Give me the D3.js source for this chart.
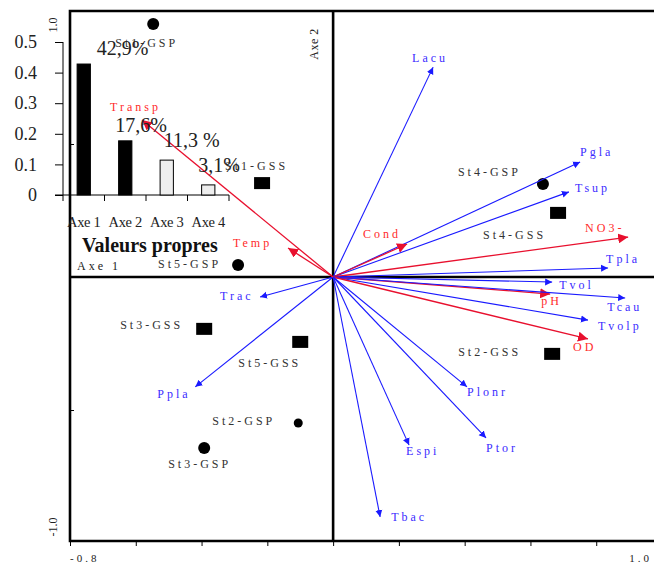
<!DOCTYPE html>
<html>
<head>
<meta charset="utf-8">
<script src="https://cdn.jsdelivr.net/npm/d3@7"></script>
<style>
  body { margin: 0; background: #fff; }
  svg { display: block; }
  .lab { font-family: "Liberation Serif", "Times New Roman", serif; font-size: 12px; letter-spacing: 3px; }
</style>
</head>
<body>
<svg id="chart" width="654" height="567"></svg>
<script>

// variables (arrows) : coordinates on axe 1 / axe 2
var varNames = ["Lacu", "Pgla", "Tsup", "Cond", "NO3-", "Tpla", "Tvol", "pH", "Tcau", "Tvolp",
                "OD", "Plonr", "Ptor", "Espi", "Tbac", "Trac", "Ppla", "Transp", "Temp"];
var varAxe1 = [0.304, 0.751, 0.717, 0.225, 0.897, 0.836, 0.666, 0.660, 0.888, 0.775,
               0.775, 0.407, 0.465, 0.231, 0.143, -0.222, -0.419, -0.581, -0.137];
var varAxe2 = [0.789, 0.432, 0.320, 0.124, 0.150, 0.034, -0.019, -0.064, -0.079, -0.162,
               -0.233, -0.413, -0.605, -0.632, -0.902, -0.075, -0.413, 0.590, 0.109];
// "phys" = physico-chimie (red), "bio" = blue
var varGroup = ["bio", "bio", "bio", "phys", "phys", "bio", "bio", "phys", "bio", "bio",
                "phys", "bio", "bio", "bio", "bio", "bio", "bio", "phys", "phys"];
// label offsets from the arrow tip
var varLabelDx = [-21, 0, 6, -44, -43, -2, 7, -9, -18, 10, -15, 0, 0, -3, 11, -40, -38, -32, -55];
var varLabelDy = [-5, -6, 0, -6, -5, -5, 7, 11, 13, 10, 12, 9, 14, 10, 4, 3, 11, -9, -1];

// stations
var stNames = ["St1-GSP", "St1-GSS", "St4-GSP", "St4-GSS", "St5-GSP", "St3-GSS", "St5-GSS",
               "St2-GSP", "St3-GSP", "St2-GSS"];
var stAxe1 = [-0.547, -0.216, 0.638, 0.684, -0.289, -0.392, -0.100, -0.106, -0.392, 0.666];
var stAxe2 = [0.951, 0.353, 0.350, 0.241, 0.045, -0.195, -0.244, -0.549, -0.643, -0.289];
var stShape = ["circle", "square", "circle", "square", "circle", "square", "square",
               "circle", "circle", "square"];
var stLabelDx = [-38, -37, -85, -75, -80, -84, -62, -86, -36, -94];
var stLabelDy = [23, -13, -8, 26, 3, 0, 25, 2, 20, 2];

// inset : valeurs propres
var eigAxes = ["Axe 1", "Axe 2", "Axe 3", "Axe 4"];
var eigValues = [0.428, 0.177, 0.114, 0.033];
var eigPct = ["42,9%", "17,6%", "11,3 %", "3,1%"];
var eigTicks = [0, 0.1, 0.2, 0.3, 0.4, 0.5];
var eigFill = ["#000", "#000", "#eeeeee", "#eeeeee"];
var eigLabelDx = [13, -10, -3, -10];
var eigLabelDy = [-9, -9, -13, -13];

var blue = "#1a1aff", red = "#e8102e";
var serif = "'Liberation Serif', 'Times New Roman', serif";

var svg = d3.select("#chart");

x = d3.scaleLinear().domain([-0.8, 1.0]).range([70, 662]);
y = d3.scaleLinear().domain([-1, 1]).range([543, 11]);

var defs = svg.append("defs");
[["blue", blue, 7, 4], ["red", red, 10, 5]].forEach(function (m) {
    defs.append("marker")
        .attr("id", "arr-" + m[0])
        .attr("markerUnits", "userSpaceOnUse")
        .attr("viewBox", "0 0 10 10")
        .attr("refX", 10).attr("refY", 5)
        .attr("markerWidth", m[2]).attr("markerHeight", m[3] * 2)
        .attr("orient", "auto")
        .append("path")
        .attr("d", "M0,0L10,5L0,10z")
        .attr("fill", m[1]);
});

// frame
svg.append("path")
    .attr("d", `M654,${y(1)}H${x(-0.8)}V${y(-1) - 2}H654`)
    .attr("fill", "none").attr("stroke", "#000").attr("stroke-width", 2.6);

// bottom ticks
svg.append("g")
    .attr("transform", `translate(0,${y(-1) - 1})`)
    .call(d3.axisBottom(x).tickValues(d3.range(-0.8, 1.01, 0.2)).tickSize(4).tickFormat(""))
    .call(g => g.select(".domain").remove());

// left ticks inside
svg.append("g")
    .attr("transform", `translate(${x(-0.8)},0)`)
    .call(d3.axisRight(y).tickValues([-0.5, 0.5]).tickSize(4).tickFormat(""))
    .call(g => g.select(".domain").remove());

svg.append("text").attr("class", "lab").attr("x", x(-0.8)).attr("y", 562)
    .attr("fill", "#222").style("font-size", "11px").text("-0.8");
svg.append("text").attr("class", "lab").attr("x", 652).attr("y", 562)
    .attr("text-anchor", "end").attr("fill", "#222").style("font-size", "11px").text("1.0");
svg.append("text").attr("class", "lab")
    .attr("transform", `translate(57,${y(1) + 14}) rotate(-90)`)
    .attr("text-anchor", "middle").attr("fill", "#222").style("letter-spacing", "0px")
    .text("1.0");
svg.append("text").attr("class", "lab")
    .attr("transform", `translate(57,${y(-1) - 16}) rotate(-90)`)
    .attr("text-anchor", "middle").attr("fill", "#222").style("letter-spacing", "0px")
    .text("-1.0");

// main axes
svg.append("line")
    .attr("x1", x(-0.8)).attr("x2", 654).attr("y1", y(0)).attr("y2", y(0))
    .attr("stroke", "#000").attr("stroke-width", 2.6);
svg.append("line")
    .attr("x1", x(0)).attr("x2", x(0)).attr("y1", y(1)).attr("y2", y(-1) - 2)
    .attr("stroke", "#000").attr("stroke-width", 2.6);

svg.append("text").attr("class", "lab").attr("x", 77).attr("y", 270)
    .attr("fill", "#222").text("Axe 1");
svg.append("text").attr("class", "lab")
    .attr("transform", `translate(318,44) rotate(-90)`)
    .attr("text-anchor", "middle").attr("fill", "#222").style("letter-spacing", "0.5px")
    .text("Axe 2");

// inset bar chart
var bx = d3.scaleBand().domain(eigAxes).range([63, 229]).paddingInner(0.68).paddingOuter(0.34);
var by = d3.scaleLinear().domain([0, 0.5]).range([195, 42]);

var inset = svg.append("g").attr("font-family", serif);

inset.append("g")
    .attr("transform", "translate(63,0)")
    .call(d3.axisLeft(by).tickValues(eigTicks).tickSize(8).tickPadding(18)
        .tickFormat(d => d === 0 ? "0" : d3.format(".1f")(d)))
    .attr("font-family", serif).attr("font-size", 18)
    .call(g => g.selectAll("text").attr("fill", "#222"))
    .call(g => g.select(".domain").attr("d", "M0,42V195"));

inset.append("line").attr("x1", 55).attr("x2", 229).attr("y1", 195).attr("y2", 195)
    .attr("stroke", "#000");
inset.selectAll("line.bt")
    .data([63, 63 + bx.step(), 63 + 2 * bx.step(), 63 + 3 * bx.step(), 229])
    .join("line").attr("class", "bt")
    .attr("x1", d => d).attr("x2", d => d).attr("y1", 195).attr("y2", 201)
    .attr("stroke", "#000");

inset.selectAll("rect.bar")
    .data(eigValues)
    .join("rect").attr("class", "bar")
    .attr("x", (d, i) => bx(eigAxes[i]))
    .attr("width", bx.bandwidth())
    .attr("y", d => by(d))
    .attr("height", d => by(0) - by(d))
    .attr("fill", (d, i) => eigFill[i])
    .attr("stroke", "#000").attr("stroke-width", 1);

inset.selectAll("text.cat")
    .data(eigAxes)
    .join("text").attr("class", "cat")
    .attr("x", d => bx(d) + bx.bandwidth() / 2)
    .attr("y", 227)
    .attr("text-anchor", "middle")
    .attr("font-size", 14.5).attr("fill", "#222")
    .style("letter-spacing", "-0.3px")
    .text(d => d);

inset.append("text")
    .attr("x", 82).attr("y", 252)
    .attr("font-size", 20).attr("font-weight", "bold").attr("fill", "#111")
    .text("Valeurs propres");

// stations
var st = svg.append("g");
stNames.forEach(function (name, i) {
    var px = x(stAxe1[i]), py = y(stAxe2[i]);
    if (stShape[i] == "circle") {
        st.append("circle").attr("cx", px).attr("cy", py)
            .attr("r", name == "St2-GSP" ? 4.5 : 6).attr("fill", "#000");
    } else {
        st.append("rect").attr("x", px - 8).attr("y", py - 6)
            .attr("width", 16).attr("height", 12).attr("fill", "#000");
    }
    st.append("text").attr("class", "lab")
        .attr("x", px + stLabelDx[i]).attr("y", py + stLabelDy[i])
        .attr("fill", "#333")
        .text(name);
});

// variable arrows
var arrows = svg.append("g");
varNames.forEach(function (name, i) {
    var col = varGroup[i] == "phys" ? red : blue;
    var tx = x(varAxe1[i]), ty = y(varAxe2[i]);
    arrows.append("line")
        .attr("x1", x(0)).attr("y1", y(0)).attr("x2", tx).attr("y2", ty)
        .attr("stroke", col)
        .attr("stroke-width", varGroup[i] == "phys" ? 1.3 : 1.1)
        .attr("marker-end", varGroup[i] == "phys" ? "url(#arr-red)" : "url(#arr-blue)");
    arrows.append("text").attr("class", "lab")
        .attr("x", tx + varLabelDx[i]).attr("y", ty + varLabelDy[i])
        .attr("fill", varGroup[i] == "phys" ? "#ff2a2a" : "#3b2cff")
        .text(name);
});

// percentages of the inset drawn last (they overlap labels in the original)
inset.raise();
inset.selectAll("text.pct")
    .data(eigPct)
    .join("text").attr("class", "pct")
    .attr("x", (d, i) => bx(eigAxes[i]) + bx.bandwidth() / 2 + eigLabelDx[i])
    .attr("y", (d, i) => by(eigValues[i]) + eigLabelDy[i])
    .attr("font-size", 20).attr("fill", "#222")
    .text(d => d);

</script>
</body>
</html>
